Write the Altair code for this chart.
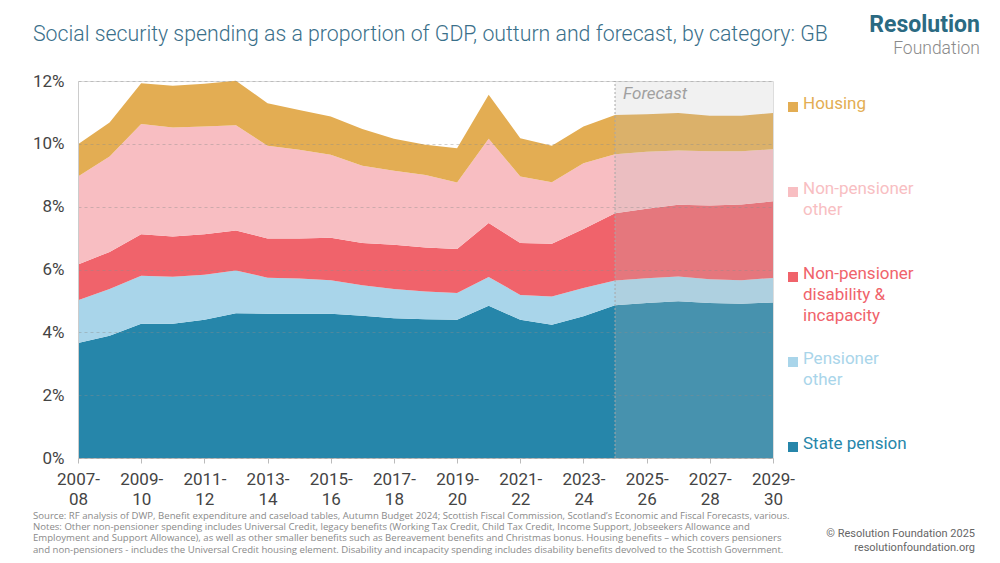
import altair as alt
import pandas as pd

# ---------------- data ----------------
years = ["2007-08", "2008-09", "2009-10", "2010-11", "2011-12", "2012-13", "2013-14",
         "2014-15", "2015-16", "2016-17", "2017-18", "2018-19", "2019-20", "2020-21",
         "2021-22", "2022-23", "2023-24", "2024-25", "2025-26", "2026-27", "2027-28",
         "2028-29", "2029-30"]

state_pension = [3.66, 3.89, 4.27, 4.27, 4.40, 4.61, 4.59, 4.59, 4.59, 4.53, 4.45, 4.42,
                 4.40, 4.85, 4.40, 4.24, 4.51, 4.86, 4.93, 4.99, 4.93, 4.91, 4.95]
pensioner_other = [1.36, 1.49, 1.53, 1.50, 1.43, 1.36, 1.15, 1.12, 1.07, 0.97, 0.93, 0.88,
                   0.85, 0.91, 0.79, 0.90, 0.90, 0.79, 0.79, 0.79, 0.76, 0.75, 0.78]
np_disability = [1.14, 1.18, 1.32, 1.28, 1.29, 1.27, 1.25, 1.28, 1.35, 1.34, 1.41, 1.40,
                 1.40, 1.72, 1.65, 1.68, 1.88, 2.14, 2.21, 2.28, 2.35, 2.41, 2.44]
np_other = [2.80, 3.04, 3.51, 3.47, 3.43, 3.35, 2.95, 2.82, 2.64, 2.46, 2.35, 2.31,
            2.12, 2.68, 2.12, 1.96, 2.09, 1.88, 1.82, 1.73, 1.72, 1.69, 1.66]
housing = [1.03, 1.08, 1.30, 1.33, 1.36, 1.42, 1.35, 1.27, 1.22, 1.17, 1.02, 0.96,
           1.09, 1.40, 1.22, 1.16, 1.17, 1.25, 1.19, 1.19, 1.13, 1.13, 1.15]

series_names = ["State pension", "Pensioner other", "Non-pensioner disability & incapacity",
                "Non-pensioner other", "Housing"]
series_values = [state_pension, pensioner_other, np_disability, np_other, housing]
series_colors = ["#2686aa", "#a9d5ea", "#f0636b", "#f8bec2", "#e3ad53"]
legend_labels = [["State pension"], ["Pensioner", "other"],
                 ["Non-pensioner", "disability &", "incapacity"],
                 ["Non-pensioner", "other"], ["Housing"]]

forecast_from = "2024-25"
forecast_label = "Forecast"
y_ticks = [0, 2, 4, 6, 8, 10, 12]
x_tick_years = years[::2]

title_text = "Social security spending as a proportion of GDP, outturn and forecast, by category: GB"
footer_lines = [
    "Source: RF analysis of DWP, Benefit expenditure and caseload tables, Autumn Budget 2024; Scottish Fiscal Commission, Scotland\u2019s Economic and Fiscal Forecasts, various.",
    "Notes: Other non-pensioner spending includes Universal Credit, legacy benefits (Working Tax Credit, Child Tax Credit, Income Support, Jobseekers Allowance and",
    "Employment and Support Allowance), as well as other smaller benefits such as Bereavement benefits and Christmas bonus. Housing benefits \u2013 which covers pensioners",
    "and non-pensioners - includes the Universal Credit housing element. Disability and incapacity spending includes disability benefits devolved to the Scottish Government.",
]
credit_lines = ["\u00a9 Resolution Foundation 2025", "resolutionfoundation.org"]

# ---------------- tables ----------------
def start_year(label):
    return int(label[:4])

rows = []
for k, (name, vals) in enumerate(zip(series_names, series_values)):
    for yr, v in zip(years, vals):
        rows.append({"start": start_year(yr), "year": yr, "series": name, "value": v, "order": k})
df = pd.DataFrame(rows)

x0, x1 = start_year(years[0]), start_year(years[-1])
fc = pd.DataFrame({"x1": [start_year(forecast_from)], "x2": [x1], "y1": [0], "y2": [y_ticks[-1]],
                   "label": [forecast_label]})

W, H = 695, 377
FONT = "Roboto"

color_scale = alt.Scale(domain=series_names, range=series_colors)
x_scale = alt.Scale(domain=[x0, x1], nice=False, zero=False)
y_scale = alt.Scale(domain=[y_ticks[0], y_ticks[-1]], nice=False)

areas = alt.Chart(df).mark_area().encode(
    x=alt.X("start:Q", scale=x_scale, title=None,
            axis=alt.Axis(values=[start_year(y) for y in x_tick_years],
                          labelExpr="[datum.value + '-', substring(toString(datum.value + 1), 2)]",
                          grid=False, domainColor="#bbbbbb", tickColor="#bbbbbb", tickSize=5,
                          labelPadding=8, labelLineHeight=20, labelBaseline="top",
                          labelFont=FONT, labelFontSize=17, labelColor="#444444",
                          labelFlush=False, labelOverlap=False)),
    y=alt.Y("value:Q", stack="zero", scale=y_scale, title=None,
            axis=alt.Axis(values=y_ticks, labelExpr="datum.value + '%'", grid=True,
                          gridDash=[3, 3], gridColor="#8c8c8c", gridOpacity=0.4,
                          domainColor="#cccccc", ticks=False, labelPadding=14,
                          labelFont=FONT, labelFontSize=17, labelColor="#444444", zindex=1)),
    color=alt.Color("series:N", scale=color_scale, legend=None),
    order=alt.Order("order:Q"),
)

overlay = alt.Chart(fc).mark_rect(color="#bdbdbd", opacity=0.22).encode(
    x="x1:Q", x2="x2:Q", y="y1:Q", y2="y2:Q")

divider = alt.Chart(fc).mark_rule(color="#a8a8a8", strokeDash=[2, 2], strokeWidth=1).encode(
    x="x1:Q", y="y1:Q", y2="y2:Q")

fc_text = alt.Chart(fc).mark_text(align="left", baseline="top", dx=8, dy=5, font=FONT,
                                  fontSize=17, fontStyle="italic", color="#a0a0a0").encode(
    x="x1:Q", y="y2:Q", text="label:N")

# legend (custom, right side)
legend_top, legend_step = 15, 85
leg = pd.DataFrame({
    "series": series_names[::-1],
    "lines": legend_labels[::-1],
    "ly": [legend_top + i * legend_step for i in range(len(series_names))],
})
leg["sy"] = leg["ly"] + 11
leg_sq = alt.Chart(leg).mark_square(size=100, opacity=1).encode(
    x=alt.value(W + 20), y=alt.Y("sy:Q", scale=None),
    color=alt.Color("series:N", scale=color_scale, legend=None))
leg_tx = alt.Chart(leg).mark_text(align="left", baseline="top", font=FONT, fontSize=17,
                                  lineHeight=21).encode(
    x=alt.value(W + 30), y=alt.Y("ly:Q", scale=None), text="lines",
    color=alt.Color("series:N", scale=color_scale, legend=None))

one = pd.DataFrame({"a": [0]})
title = alt.Chart(one).mark_text(text=title_text, align="left", baseline="alphabetic", font=FONT,
                                 fontSize=21.3, fontWeight=300, color="#3a6f8a").encode(
    x=alt.value(-45), y=alt.value(-40))
logo1 = alt.Chart(one).mark_text(text="Resolution", align="right", baseline="alphabetic", font=FONT,
                                 fontSize=23, fontWeight="bold", color="#2b6a82").encode(
    x=alt.value(902), y=alt.value(-49))
logo2 = alt.Chart(one).mark_text(text="Foundation", align="right", baseline="alphabetic", font=FONT,
                                 fontSize=17.5, fontWeight=300, color="#8a8a8a").encode(
    x=alt.value(902), y=alt.value(-27))
footer = alt.Chart(one).mark_text(text=footer_lines, align="left", baseline="top", font="Open Sans",
                                  fontSize=9.6, lineHeight=11.2, color="#8a8a8a").encode(
    x=alt.value(-45), y=alt.value(430))
credit = alt.Chart(one).mark_text(text=credit_lines, align="right", baseline="top", font=FONT,
                                  fontSize=11, lineHeight=14, color="#666666").encode(
    x=alt.value(897), y=alt.value(447))

chart = alt.layer(areas, overlay, divider, fc_text, leg_sq, leg_tx, title, logo1, logo2,
                  footer, credit).properties(
    width=W, height=H,
    autosize=alt.AutoSizeParams(type="none"),
    padding={"left": 70, "top": 73, "right": 219, "bottom": 97},
).configure_view(stroke=None).configure(background="white")

chart.save("out.html", embed_options={"renderer": "svg", "actions": False})
